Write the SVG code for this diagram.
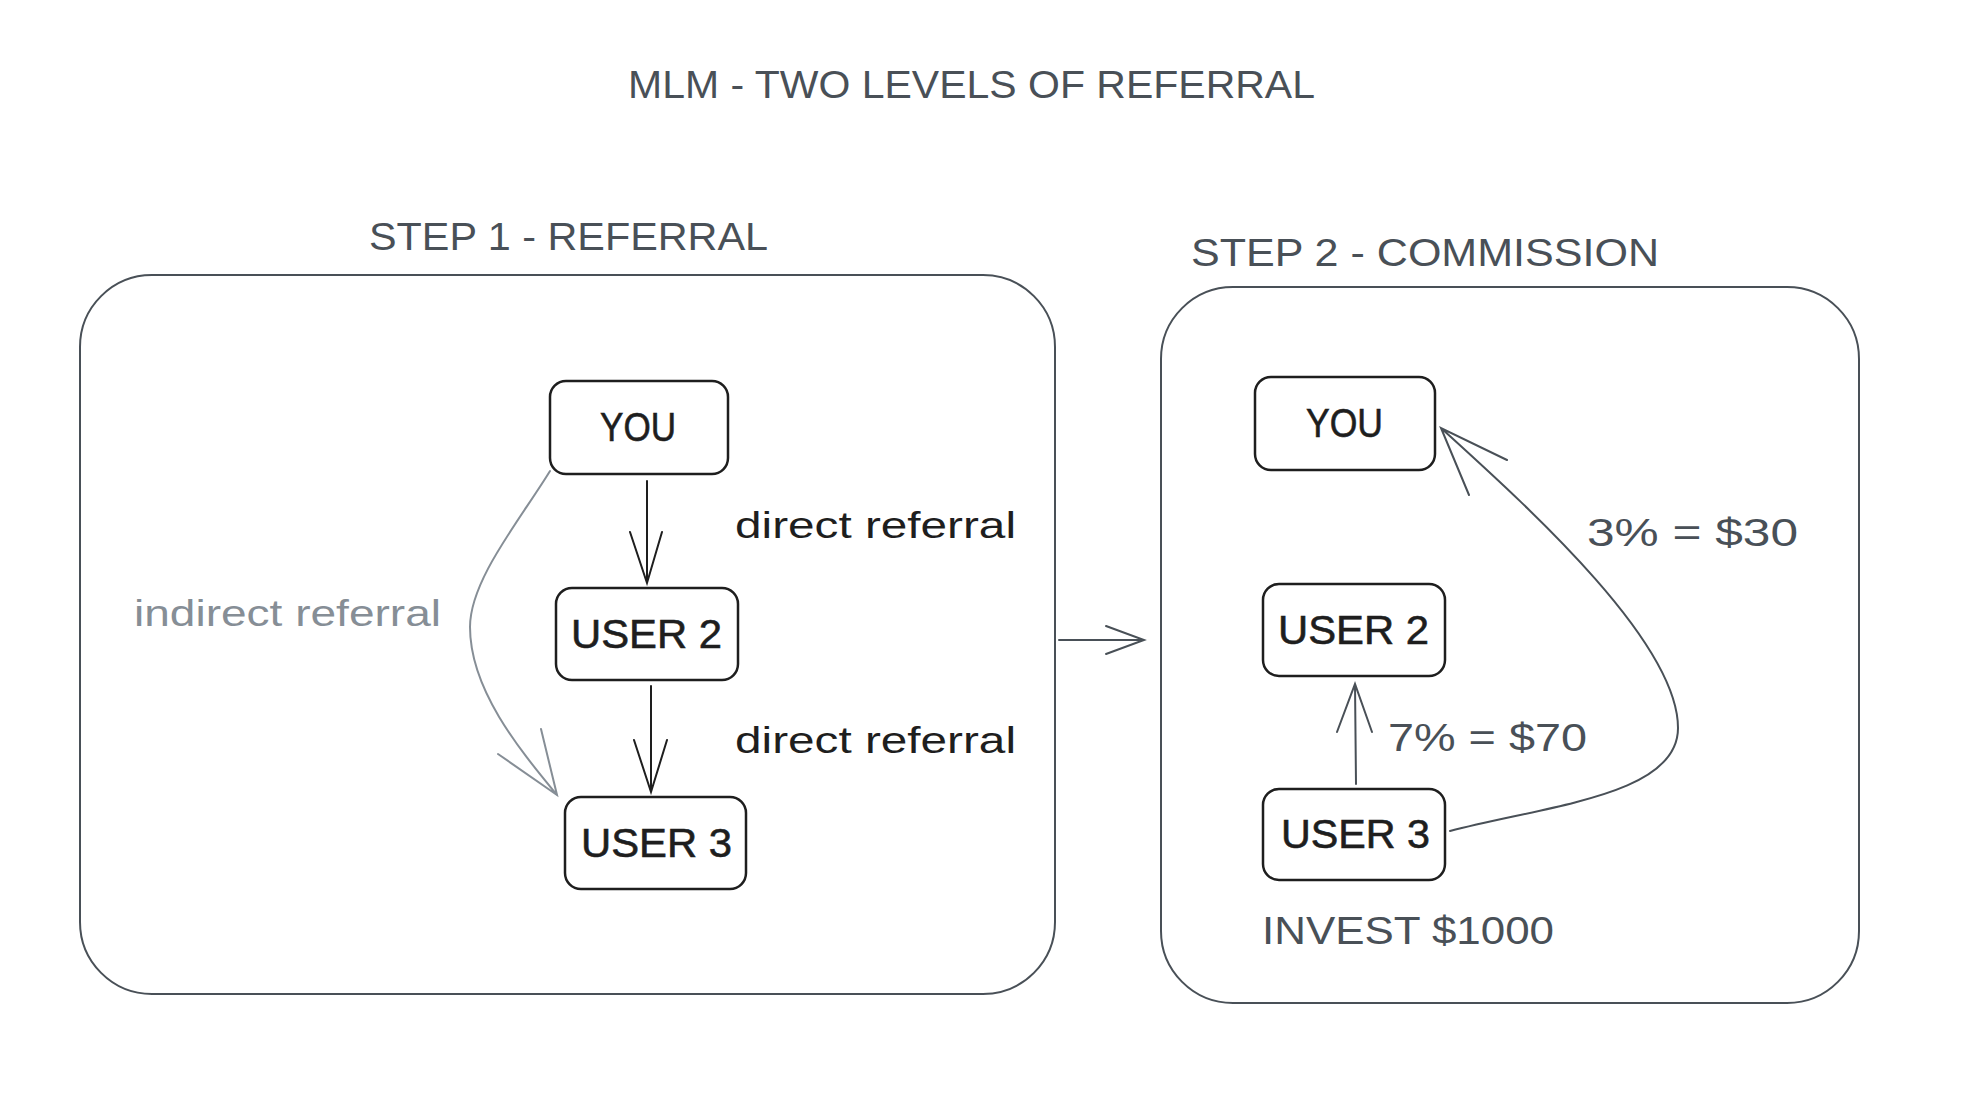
<svg xmlns="http://www.w3.org/2000/svg" width="1986" height="1108" viewBox="0 0 1986 1108">
<style>
.frame{fill:none;stroke:#495057;stroke-width:2}
.node{fill:#fff;stroke:#1e1e1e;stroke-width:2.5}
.t{font-family:"Liberation Sans","Noto Sans",sans-serif}
.head{fill:#495057;font-size:38px}
.nt{fill:#1e1e1e;font-size:40px;stroke:#1e1e1e;stroke-width:0.6}
.lbl{fill:#1e1e1e;font-size:36px}
.gray{fill:#868e96;font-size:36px}
.dk{fill:#495057;font-size:38px}
.c{fill:none;stroke:#1e1e1e;stroke-width:2;stroke-linecap:round}
.cg{fill:none;stroke:#868e96;stroke-width:2;stroke-linecap:round}
.cd{fill:none;stroke:#495057;stroke-width:2;stroke-linecap:round}
</style>
<rect width="1986" height="1108" fill="#fff"/>
<text class="t head" x="628" y="98" textLength="687" lengthAdjust="spacingAndGlyphs">MLM - TWO LEVELS OF REFERRAL</text>

<g id="step1">
<text class="t head" x="369" y="250" textLength="399" lengthAdjust="spacingAndGlyphs">STEP 1 - REFERRAL</text>
<rect class="frame" x="80" y="275" width="975" height="719" rx="72"/>
</g>
<g id="step2">
<text class="t head" x="1191" y="266" textLength="468" lengthAdjust="spacingAndGlyphs">STEP 2 - COMMISSION</text>
<rect class="frame" x="1161" y="287" width="698" height="716" rx="72"/>
</g>

<g id="s1-you"><rect class="node" x="550" y="381" width="178" height="93" rx="16"/><text class="t nt" x="600" y="441" textLength="76" lengthAdjust="spacingAndGlyphs">YOU</text></g>
<g id="s1-user2"><rect class="node" x="556" y="588" width="182" height="92" rx="16"/><text class="t nt" x="571" y="648" textLength="151" lengthAdjust="spacingAndGlyphs">USER 2</text></g>
<g id="s1-user3"><rect class="node" x="565" y="797" width="181" height="92" rx="16"/><text class="t nt" x="581" y="857" textLength="151" lengthAdjust="spacingAndGlyphs">USER 3</text></g>

<g id="s2-you"><rect class="node" x="1255" y="377" width="180" height="93" rx="16"/><text class="t nt" x="1306" y="437" textLength="77" lengthAdjust="spacingAndGlyphs">YOU</text></g>
<g id="s2-user2"><rect class="node" x="1263" y="584" width="182" height="92" rx="16"/><text class="t nt" x="1278" y="644" textLength="151" lengthAdjust="spacingAndGlyphs">USER 2</text></g>
<g id="s2-user3"><rect class="node" x="1263" y="789" width="182" height="91" rx="16"/><text class="t nt" x="1281" y="848" textLength="149" lengthAdjust="spacingAndGlyphs">USER 3</text></g>

<g id="labels">
<text class="t lbl" x="735" y="538" textLength="281" lengthAdjust="spacingAndGlyphs">direct referral</text>
<text class="t lbl" x="735" y="753" textLength="281" lengthAdjust="spacingAndGlyphs">direct referral</text>
<text class="t gray" x="134" y="626" textLength="307" lengthAdjust="spacingAndGlyphs">indirect referral</text>
<text class="t dk" x="1388" y="751" textLength="199" lengthAdjust="spacingAndGlyphs">7% = $70</text>
<text class="t dk" x="1587" y="546" textLength="211" lengthAdjust="spacingAndGlyphs">3% = $30</text>
<text class="t dk" x="1262" y="944" textLength="292" lengthAdjust="spacingAndGlyphs">INVEST $1000</text>
</g>

<g id="connectors">
<path class="c" d="M647 481 L647 583 M630 532 L647 583 L662 532"/>
<path class="c" d="M651 686 L651 792 M634 740 L651 792 L667 740"/>
<path class="cg" d="M550 471 C520 520 470 580 470 627 C470 690 520 750 557 795 M498 754 L557 795 L541 729"/>
<path class="cd" d="M1059 640 L1144 640 M1106 626 L1144 640 L1106 654"/>
<path class="cd" d="M1356 784 L1355 684 M1337 732 L1355 684 L1372 732"/>
<path class="cd" d="M1450 831 C1550 805 1678 795 1678 728 C1678 640 1520 500 1441 428 M1507 460 L1441 428 L1469 495"/>
</g>
</svg>
